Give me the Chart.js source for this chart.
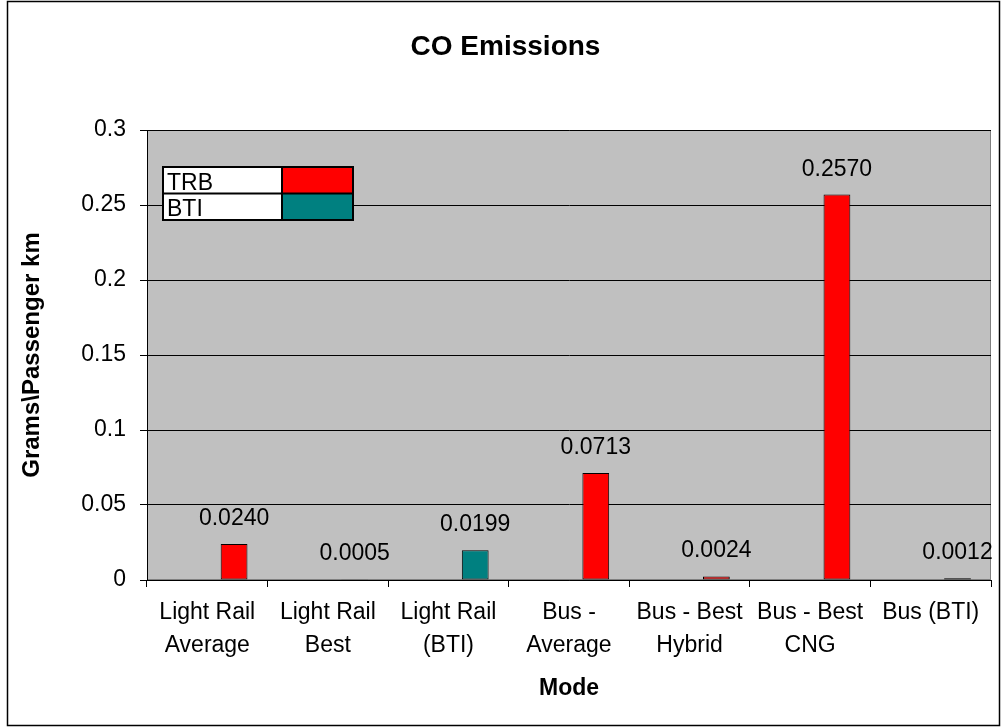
<!DOCTYPE html>
<html>
<head>
<meta charset="utf-8">
<title>CO Emissions</title>
<script src="https://cdn.jsdelivr.net/npm/chart.js@4/dist/chart.umd.min.js"></script>
<style>
  html, body { margin: 0; padding: 0; background: #fff; }
  #wrap { position: relative; width: 1003px; height: 727px; }
  canvas { display: block; }
</style>
</head>
<body>
<div id="wrap"><canvas id="chart" width="1003" height="727"></canvas></div>
<script>
// Categories (two-line axis labels)
const categories = [
  ["Light Rail", "Average"],
  ["Light Rail", "Best"],
  ["Light Rail", "(BTI)"],
  ["Bus -", "Average"],
  ["Bus - Best", "Hybrid"],
  ["Bus - Best", "CNG"],
  ["Bus (BTI)"]
];

// Grams per passenger km, by source
const trbValues = [0.0240, 0.0005, null, 0.0713, 0.0024, 0.2570, 0.0012];
const btiValues = [null, null, 0.0199, null, null, null, null];

// Value axis
const yTicks = [0, 0.05, 0.1, 0.15, 0.2, 0.25, 0.3];

const FONT = "'Liberation Sans', Arial, Helvetica, sans-serif";
const TRB_COLOR = "#FF0000";
const BTI_COLOR = "#008080";

const emptyRow = categories.map(() => null);

// Grey plot area with its frame
const plotBackground = {
  id: "plotBackground",
  beforeDraw(chart) {
    const { ctx, chartArea: a } = chart;
    ctx.save();
    ctx.fillStyle = "#C0C0C0";
    ctx.fillRect(a.left, a.top, a.right - a.left, a.bottom - a.top);
    ctx.strokeStyle = "#808080";
    ctx.lineWidth = 1;
    ctx.strokeRect(a.left + 0.5, a.top + 0.5, a.right - a.left - 1, a.bottom - a.top - 1);
    ctx.restore();
  }
};

// Value printed above every bar
const valueLabels = {
  id: "valueLabels",
  afterDatasetsDraw(chart) {
    const { ctx } = chart;
    ctx.save();
    ctx.font = "23px " + FONT;
    ctx.fillStyle = "#000";
    ctx.textAlign = "center";
    ctx.textBaseline = "alphabetic";
    chart.data.datasets.forEach((ds, di) => {
      const meta = chart.getDatasetMeta(di);
      meta.data.forEach((bar, i) => {
        const v = ds.data[i];
        if (v === null || v === undefined) return;
        ctx.fillText(v.toFixed(4), bar.x, bar.y - 19);
      });
    });
    ctx.restore();
  }
};

// Boxed key: name cell + colour cell per source
const keyTable = {
  id: "keyTable",
  afterDraw(chart) {
    const { ctx, chartArea: a } = chart;
    const entries = chart.data.datasets.filter(ds => ds.label);
    const x0 = a.left + 16, y0 = a.top + 37;
    const nameW = 119, swatchW = 71, rowH = 26.5;
    ctx.save();
    entries.forEach((ds, r) => {
      const y = y0 + r * rowH;
      ctx.fillStyle = "#FFFFFF";
      ctx.fillRect(x0, y, nameW, rowH);
      ctx.fillStyle = ds.backgroundColor;
      ctx.fillRect(x0 + nameW, y, swatchW, rowH);
      ctx.fillStyle = "#000";
      ctx.font = "23px " + FONT;
      ctx.textAlign = "left";
      ctx.textBaseline = "alphabetic";
      ctx.fillText(ds.label, x0 + 4, y + rowH - 4);
    });
    ctx.strokeStyle = "#000";
    ctx.lineWidth = 2;
    const h = entries.length * rowH;
    ctx.strokeRect(x0, y0, nameW + swatchW, h);
    ctx.beginPath();
    ctx.moveTo(x0 + nameW, y0);
    ctx.lineTo(x0 + nameW, y0 + h);
    for (let r = 1; r < entries.length; r++) {
      ctx.moveTo(x0, y0 + r * rowH);
      ctx.lineTo(x0 + nameW + swatchW, y0 + r * rowH);
    }
    ctx.stroke();
    ctx.restore();
  }
};

// Outer frame of the whole chart
const outerFrame = {
  id: "outerFrame",
  afterDraw(chart) {
    const { ctx } = chart;
    ctx.save();
    ctx.strokeStyle = "#000";
    ctx.lineWidth = 1.5;
    ctx.strokeRect(7.5, 1.5, 992, 724);
    ctx.restore();
  }
};

new Chart(document.getElementById("chart"), {
  type: "bar",
  data: {
    labels: categories,
    datasets: [
      { data: emptyRow, stack: "s1" },
      { data: emptyRow, stack: "s2" },
      { label: "TRB", data: trbValues, stack: "src",
        backgroundColor: TRB_COLOR, borderColor: "#000", borderWidth: 1, borderSkipped: false },
      { label: "BTI", data: btiValues, stack: "src",
        backgroundColor: BTI_COLOR, borderColor: "#000", borderWidth: 1, borderSkipped: false }
    ]
  },
  options: {
    responsive: false,
    animation: false,
    categoryPercentage: 3 / 4.5,
    barPercentage: 1,
    layout: { padding: { left: 20, right: 12, top: 0, bottom: 0 } },
    plugins: {
      legend: { display: false },
      tooltip: { enabled: false },
      title: {
        display: true,
        text: "CO Emissions",
        color: "#000",
        font: { family: FONT, size: 28, weight: "bold" },
        padding: { top: 30, bottom: 66.4 }
      }
    },
    scales: {
      x: {
        offset: true,
        grid: { display: true, offset: true, drawOnChartArea: false,
                drawTicks: true, tickLength: 7, tickColor: "#000" },
        border: { display: true, color: "#000", width: 1 },
        ticks: {
          color: "#000",
          font: { family: FONT, size: 23, lineHeight: 1.4 },
          padding: 10,
          maxRotation: 0,
          autoSkip: false
        },
        title: {
          display: true,
          text: "Mode",
          color: "#000",
          font: { family: FONT, size: 23, weight: "bold" },
          padding: { top: 0, bottom: 25 }
        },
        afterFit(scale) { scale.height = 147; }
      },
      y: {
        min: yTicks[0],
        max: yTicks[yTicks.length - 1],
        afterBuildTicks(scale) { scale.ticks = yTicks.map(v => ({ value: v })); },
        grid: { color: "#000", lineWidth: 1, drawTicks: true, tickLength: 7, tickColor: "#000" },
        border: { display: true, color: "#000", width: 1 },
        ticks: {
          color: "#000",
          font: { family: FONT, size: 23 },
          padding: 14,
          callback: v => String(Number(v.toFixed(2)))
        },
        title: {
          display: true,
          text: "Grams\\Passenger km",
          color: "#000",
          font: { family: FONT, size: 24, weight: "bold", lineHeight: 1 },
          padding: { top: 0, bottom: 0 }
        },
        afterFit(scale) { scale.width = 127; }
      }
    }
  },
  plugins: [plotBackground, valueLabels, keyTable, outerFrame]
});
</script>
</body>
</html>
